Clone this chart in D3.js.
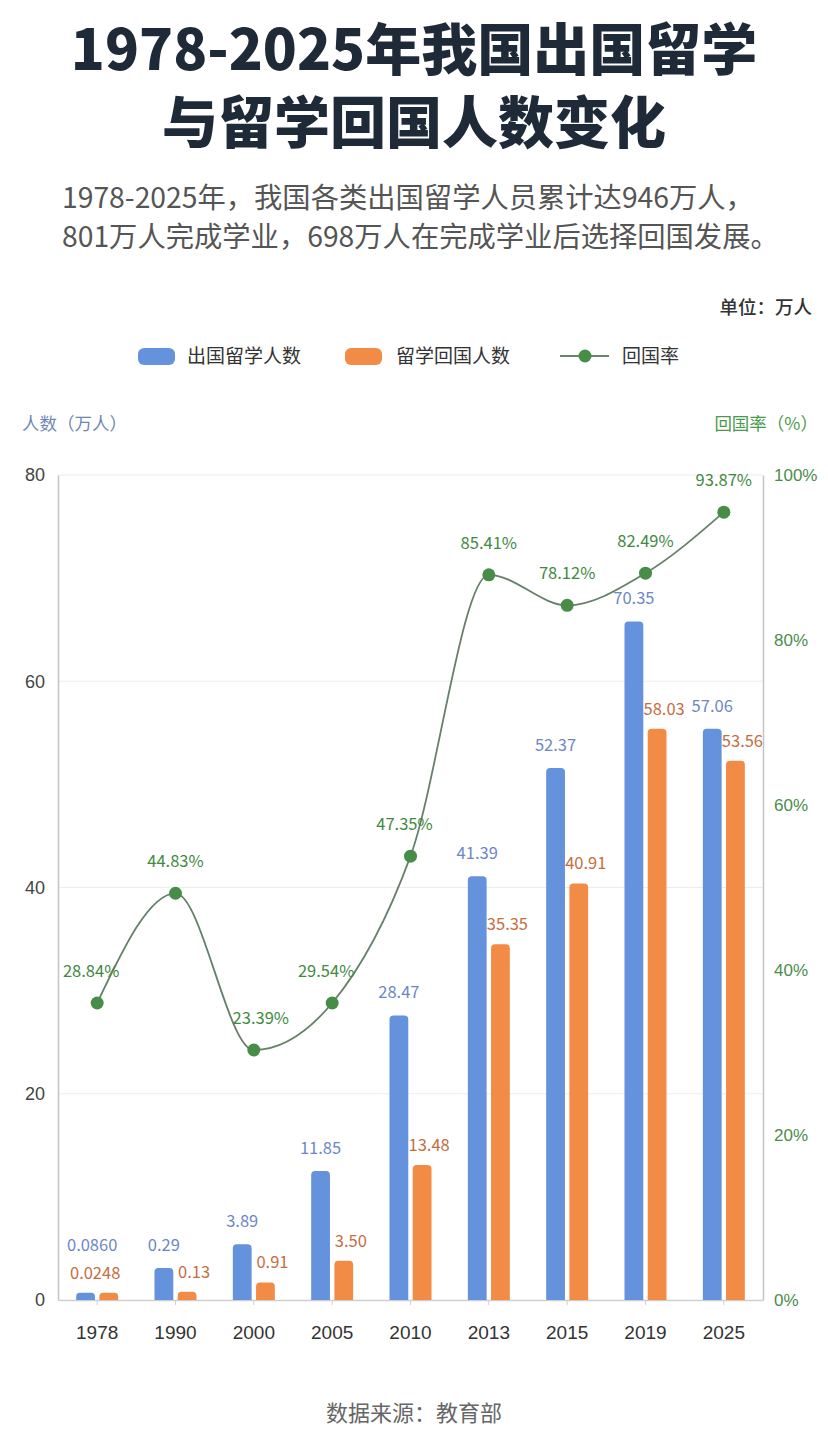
<!DOCTYPE html>
<html>
<head>
<meta charset="utf-8">
<script src="https://cdn.jsdelivr.net/npm/d3@7/dist/d3.min.js"></script>
<style>
  html, body { margin: 0; padding: 0; background: #fff; }
  svg { display: block; font-family: "Noto Sans CJK SC", "Noto Sans", sans-serif; }
</style>
</head>
<body>
<svg id="chart" width="828" height="1446"></svg>
<script>
// categories and values
var years = ["1978", "1990", "2000", "2005", "2010", "2013", "2015", "2019", "2025"];
// bar heights as drawn (万人)
var outbound = [0.7, 3.1, 5.4, 12.5, 27.6, 41.1, 51.6, 65.8, 55.4];
var returned = [0.7, 0.8, 1.7, 3.8, 13.1, 34.5, 40.4, 55.4, 52.3];
// return rate as drawn (%)
var rate = [36.0, 49.3, 30.3, 36.0, 53.8, 87.9, 84.2, 88.1, 95.5];
// printed labels
var outboundLabels = ["0.0860", "0.29", "3.89", "11.85", "28.47", "41.39", "52.37", "70.35", "57.06"];
var returnedLabels = ["0.0248", "0.13", "0.91", "3.50", "13.48", "35.35", "40.91", "58.03", "53.56"];
var rateLabels = ["28.84%", "44.83%", "23.39%", "29.54%", "47.35%", "85.41%", "78.12%", "82.49%", "93.87%"];
var leftTicks = [0, 20, 40, 60, 80];
var rightTicks = [0, 20, 40, 60, 80, 100];

var blue = "#6592dc", orange = "#f28b46", green = "#478d47";

var svg = d3.select("#chart");
svg.append("rect").attr("width", 828).attr("height", 1446).attr("fill", "#fff");

// title + subtitle
svg.append("text").attr("x", 414).attr("y", 70).attr("text-anchor", "middle")
    .attr("font-size", 56).attr("font-weight", 900).attr("fill", "#1f2a38")
    .text("1978-2025年我国出国留学");
svg.append("text").attr("x", 414).attr("y", 143).attr("text-anchor", "middle")
    .attr("font-size", 56).attr("font-weight", 900).attr("fill", "#1f2a38")
    .text("与留学回国人数变化");
svg.append("text").attr("x", 62).attr("y", 208)
    .attr("font-size", 28.3).attr("fill", "#555")
    .text("1978-2025年，我国各类出国留学人员累计达946万人，");
svg.append("text").attr("x", 62).attr("y", 247)
    .attr("font-size", 28.3).attr("fill", "#555")
    .text("801万人完成学业，698万人在完成学业后选择回国发展。");

svg.append("text").attr("x", 812).attr("y", 314).attr("text-anchor", "end")
    .attr("font-size", 18.5).attr("font-weight", 500).attr("fill", "#333")
    .text("单位：万人");

// legend
var lg = svg.append("g").attr("font-size", 19).attr("fill", "#333");
lg.append("rect").attr("x", 138).attr("y", 348).attr("width", 37).attr("height", 17).attr("rx", 6).attr("fill", blue);
lg.append("text").attr("x", 187).attr("y", 363).text("出国留学人数");
lg.append("rect").attr("x", 345).attr("y", 348).attr("width", 37).attr("height", 17).attr("rx", 6).attr("fill", orange);
lg.append("text").attr("x", 396).attr("y", 363).text("留学回国人数");
lg.append("line").attr("x1", 560).attr("x2", 609).attr("y1", 356).attr("y2", 356).attr("stroke", "#6b856b").attr("stroke-width", 2);
lg.append("circle").attr("cx", 585).attr("cy", 356).attr("r", 6.5).attr("fill", green);
lg.append("text").attr("x", 622).attr("y", 363).text("回国率");

// axis titles
svg.append("text").attr("x", 22).attr("y", 430).attr("font-size", 17.5).attr("fill", "#6f86b8").text("人数（万人）");
svg.append("text").attr("x", 818).attr("y", 430).attr("text-anchor", "end").attr("font-size", 17.5).attr("fill", "#4b9a4b").text("回国率（%）");

// scales
var x = d3.scaleBand().domain(years).range([58, 763]);
var xs = d3.scaleBand().domain(["out", "ret"]).range([-21, 21]).paddingInner(0.19);
var y = d3.scaleLinear().domain([0, 80]).range([1300, 475]);
var yR = d3.scaleLinear().domain([0, 100]).range([1300, 475]);

// grid
svg.append("g").selectAll("line").data(leftTicks.slice(1)).enter().append("line")
    .attr("x1", 58).attr("x2", 763)
    .attr("y1", function(d) { return y(d); }).attr("y2", function(d) { return y(d); })
    .attr("stroke", "#ececec").attr("stroke-width", 1.2);

// axes
var gl = svg.append("g").attr("transform", "translate(58,0)")
    .call(d3.axisLeft(y).tickValues(leftTicks).tickSize(0).tickPadding(13));
gl.select(".domain").attr("stroke", "#c4c4c4").attr("stroke-width", 1.5);
gl.selectAll("text").attr("font-size", 18).attr("fill", "#444").attr("font-family", "inherit");

var gr = svg.append("g").attr("transform", "translate(763,0)")
    .call(d3.axisRight(yR).tickValues(rightTicks).tickSize(0).tickPadding(11)
        .tickFormat(function(d) { return d + "%"; }));
gr.select(".domain").attr("stroke", "#c4c4c4").attr("stroke-width", 1.5);
gr.selectAll("text").attr("font-size", 17).attr("fill", "#4b8d4b").attr("font-family", "inherit");

var gb = svg.append("g").attr("transform", "translate(0,1300)")
    .call(d3.axisBottom(x).tickSize(5).tickSizeOuter(0).tickPadding(21));
gb.select(".domain").attr("stroke", "#cfcfcf").attr("stroke-width", 1.5);
gb.selectAll(".tick line").attr("stroke", "#d0d0d0");
gb.selectAll("text").attr("font-size", 19).attr("fill", "#333").attr("font-family", "inherit");

// rounded-top bar path
function barPath(x0, w, yTop, yBase) {
    var r = Math.min(4, w / 2, (yBase - yTop) / 2);
    return "M" + x0 + "," + yBase +
        "V" + (yTop + r) +
        "Q" + x0 + "," + yTop + " " + (x0 + r) + "," + yTop +
        "H" + (x0 + w - r) +
        "Q" + (x0 + w) + "," + yTop + " " + (x0 + w) + "," + (yTop + r) +
        "V" + yBase + "Z";
}

var rows = years.map(function(yr, i) {
    return { year: yr, out: outbound[i], ret: returned[i], rate: rate[i],
             outL: outboundLabels[i], retL: returnedLabels[i], rateL: rateLabels[i] };
});

var cx = function(d) { return x(d.year) + x.bandwidth() / 2; };

var bars = svg.append("g");
bars.selectAll(".out").data(rows).enter().append("path").attr("class", "out")
    .attr("fill", blue)
    .attr("d", function(d) { return barPath(cx(d) + xs("out"), xs.bandwidth(), y(d.out), y(0)); });
bars.selectAll(".ret").data(rows).enter().append("path").attr("class", "ret")
    .attr("fill", orange)
    .attr("d", function(d) { return barPath(cx(d) + xs("ret"), xs.bandwidth(), y(d.ret), y(0)); });

// bar value labels
var lab = svg.append("g").attr("font-size", 16.5).attr("text-anchor", "middle");
rows.forEach(function(d) {
    var c = cx(d);
    var bxOut = c + xs("out") + xs.bandwidth() / 2;
    var bxRet = c + xs("ret") + xs.bandwidth() / 2 + 7;
    var yRet = y(d.ret) - 14;
    var yOut = y(d.out) - 17;
    if (yOut > yRet - 20) {
        // stack the two labels when they would collide
        yOut = yRet - 28;
        bxOut = c - 5;
        bxRet = c - 2;
    }
    lab.append("text").attr("x", bxOut).attr("y", yOut).attr("fill", "#6d87c6").text(d.outL);
    lab.append("text").attr("x", bxRet).attr("y", yRet).attr("fill", "#c56d3f").text(d.retL);
});

// rate line
var line = d3.line()
    .x(function(d) { return cx(d); })
    .y(function(d) { return yR(d.rate); })
    .curve(d3.curveMonotoneX);
svg.append("path").datum(rows).attr("d", line)
    .attr("fill", "none").attr("stroke", "#66806a").attr("stroke-width", 1.8);
svg.append("g").selectAll("circle").data(rows).enter().append("circle")
    .attr("cx", cx).attr("cy", function(d) { return yR(d.rate); })
    .attr("r", 6.5).attr("fill", green);
svg.append("g").attr("font-size", 16.5).attr("text-anchor", "middle").attr("fill", "#3f8a3f")
    .selectAll("text").data(rows).enter().append("text")
    .attr("x", function(d, i) { return cx(d) + (i === 2 ? 7 : i === 0 || i === 3 || i === 4 ? -6 : 0); })
    .attr("y", function(d) { return yR(d.rate) - 26; })
    .text(function(d) { return d.rateL; });

// footer
svg.append("text").attr("x", 414).attr("y", 1421).attr("text-anchor", "middle")
    .attr("font-size", 22).attr("fill", "#666").text("数据来源：教育部");
</script>
</body>
</html>
